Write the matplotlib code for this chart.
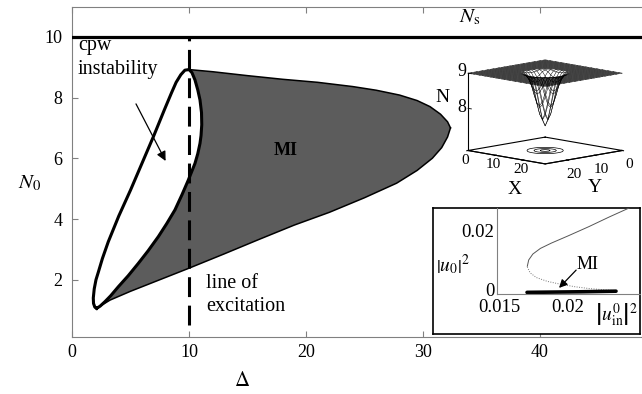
import matplotlib
matplotlib.use('Agg')
import matplotlib.pyplot as plt
import numpy as np

plt.rcParams['font.family'] = ['Liberation Serif', 'DejaVu Serif']
plt.rcParams['mathtext.fontset'] = 'stix'

# cpw instability lobe: outer edge, bottom tip -> top
lobe_out_x = [2.11, 1.95, 1.84, 1.82, 1.9, 2.05, 2.25, 2.6, 3.1, 4.0, 5.0, 6.0, 7.0, 7.9, 8.5, 8.9, 9.3, 9.65, 10.0]
lobe_out_y = [1.06, 1.1, 1.22, 1.4, 1.7, 2.0, 2.25, 2.7, 3.25, 4.1, 4.95, 5.85, 6.75, 7.6, 8.15, 8.5, 8.75, 8.9, 8.92]
# inner edge, top -> bottom tip (also left edge of the MI region)
lobe_in_x = [10.0, 10.25, 10.51, 10.75, 10.94, 11.07, 11.09, 11.03, 10.94, 10.75, 10.51, 9.94, 9.4, 8.8, 8.1,
             7.38, 6.5, 5.67, 4.8, 3.96, 3.3, 2.82, 2.4, 2.11]
lobe_in_y = [8.92, 8.82, 8.58, 8.25, 7.92, 7.5, 7.1, 6.75, 6.49, 6.15, 5.83, 5.28, 4.8, 4.3, 3.85,
             3.42, 2.95, 2.54, 2.13, 1.77, 1.47, 1.28, 1.13, 1.06]
# MI region, lower and upper edges
mi_low_x = [2.11, 3.25, 5.0, 7.5, 10.0, 13.0, 16.0, 19.0, 22.0, 25.0, 27.75, 29.5, 30.8, 31.6, 32.1, 32.35]
mi_low_y = [1.06, 1.33, 1.62, 2.0, 2.38, 2.85, 3.33, 3.8, 4.22, 4.7, 5.18, 5.6, 6.0, 6.35, 6.7, 7.0]
mi_up_x = [10.0, 12.0, 15.0, 18.0, 21.0, 24.0, 26.0, 28.0, 29.5, 30.6, 31.5, 32.1, 32.35]
mi_up_y = [8.92, 8.85, 8.72, 8.6, 8.5, 8.36, 8.24, 8.08, 7.9, 7.7, 7.45, 7.2, 7.0]

N_s = 10.0
delta_exc = 10.0

# bistability inset
up_x = [0.01705, 0.01715, 0.01745, 0.0180, 0.0188, 0.0200, 0.0215, 0.0230, 0.02462]
up_y = [0.0080, 0.0101, 0.0121, 0.0140, 0.0158, 0.0182, 0.0213, 0.0246, 0.0280]
mid_x = [0.01705, 0.01725, 0.0177, 0.0185, 0.0195, 0.0205, 0.0215, 0.0228, 0.02341]
mid_y = [0.0078, 0.0058, 0.0042, 0.0029, 0.0019, 0.0011, 0.0005, 0.0, -0.0002]
low_x = [0.01703, 0.0190, 0.0210, 0.02348]
low_y = [-0.0008, -0.0007, -0.0006, -0.0004]

# 3d inset: radial profile of the dip
dip_r = [0, 1, 2, 3, 4, 5, 6, 40]
dip_n = [7.5, 7.68, 8.05, 8.45, 8.8, 8.95, 9.0, 9.0]
grid_side = np.arange(0, 29)
z_ticks = [8, 9]
z_low = 6.8

fig = plt.figure(figsize=(6.42, 3.94), dpi=100)
W, H = 642.0, 394.0

def rect(l, t, r, b):
    return [l / W, 1 - b / H, (r - l) / W, (b - t) / H]

ax = fig.add_axes(rect(72, 7, 642, 337))
ax.fill(lobe_in_x + mi_low_x[1:] + mi_up_x[::-1], lobe_in_y + mi_low_y[1:] + mi_up_y[::-1],
        color='#5c5c5c', lw=0, zorder=1)
ax.plot(mi_low_x, mi_low_y, color='k', lw=1.1, zorder=2)
ax.plot(mi_up_x, mi_up_y, color='k', lw=1.1, zorder=2)
ax.plot(lobe_out_x + lobe_in_x, lobe_out_y + lobe_in_y, color='k', lw=2.2, zorder=3)
ax.plot([delta_exc, delta_exc], [0.52, N_s], color='k', lw=2.2, ls=(0, (6.5, 2.8)), zorder=4)
ax.axhline(N_s, color='k', lw=2.3, zorder=4)

ax.set_xlim(0, 48.72)
ax.set_ylim(0.115, 10.98)
ax.set_xticks([0, 10, 20, 30, 40])
ax.set_yticks([2, 4, 6, 8, 10])
ax.tick_params(direction='in', length=4, color='#808080', labelsize=13, top=True, right=False)
ax.tick_params(axis='y', pad=7)
ax.tick_params(axis='x', pad=5)
for s in ['left', 'bottom', 'top']:
    ax.spines[s].set_color('#808080')
ax.spines['right'].set_visible(False)

fig.text(242 / W, 1 - 382 / H, r'$\Delta$', fontsize=15, ha='center', va='center')
fig.text(30 / W, 1 - 183 / H, r'$N_0$', fontsize=15, ha='center', va='center')
ax.text(0.51, 9.56, 'cpw', fontsize=14.5, va='baseline')
ax.text(0.51, 8.77, 'instability', fontsize=14.5, va='baseline')
ax.text(11.45, 1.72, 'line of', fontsize=14.5, va='baseline')
ax.text(11.45, 0.97, 'excitation', fontsize=14.5, va='baseline')
ax.text(18.3, 6.27, 'MI', fontsize=13, fontweight='bold', ha='center', va='center')
ax.annotate('', xy=(8.0, 5.91), xytext=(5.47, 7.79),
            arrowprops=dict(arrowstyle='-|>', color='k', lw=0.9, mutation_scale=14, shrinkA=0, shrinkB=0))
ax.text(34.0, 10.62, r'$N_{\rm s}$', fontsize=15, ha='center', va='center')

# bistability inset
box = fig.add_axes(rect(433, 208, 640, 334))
box.set_xticks([])
box.set_yticks([])
for s in box.spines.values():
    s.set_color('k')
    s.set_linewidth(1.2)
bx = fig.add_axes(rect(496.7, 208, 640, 294.3))
bx.patch.set_alpha(0)
bx.plot(up_x, up_y, color='#555555', lw=0.7)
bx.plot(mid_x, mid_y, color='#777777', lw=0.7, ls=(0, (1, 1.5)))
bx.plot(low_x, low_y, color='k', lw=2.6, solid_capstyle='round')
bx.set_xlim(0.01483, 0.02522)
bx.set_ylim(-0.00145, 0.0276)
bx.set_xticks([0.015, 0.02])
bx.set_xticklabels(['0.015', '0.02'])
bx.set_yticks([0, 0.02])
bx.set_yticklabels(['0', '0.02'])
bx.tick_params(length=0, labelsize=13.5, pad=1.5)
bx.tick_params(axis='x', pad=3.5)
bx.spines['top'].set_visible(False)
bx.spines['right'].set_visible(False)
bx.spines['left'].set_color('#808080')
bx.spines['bottom'].set_color('#808080')
bx.text(0.02145, 0.0087, 'MI', fontsize=13, ha='center', va='center')
bx.annotate('', xy=(0.01935, 0.0007), xytext=(0.02059, 0.0067),
            arrowprops=dict(arrowstyle='-|>', color='k', lw=0.9, mutation_scale=12, shrinkA=0, shrinkB=0))
fig.text(453 / W, 1 - 265 / H, r'$\left|u_0\right|^2$', fontsize=14, ha='center', va='center')
fig.text(617 / W, 1 - 315 / H, r'$\left|u_{\rm in}^0\right|^2$', fontsize=14, ha='center', va='center')

# 3d inset
a3 = fig.add_axes(rect(443, 34, 643, 194), projection='3d')
a3.patch.set_alpha(0)
GX, GY = np.meshgrid(grid_side, grid_side)
c = grid_side.mean()
GZ = np.interp(np.hypot(GX - c, GY - c), dip_r, dip_n)
a3.plot_wireframe(GX, GY, GZ, rstride=1, cstride=1, color='k', lw=0.35)
a3.contour(GX, GY, GZ, levels=[7.8, 8.4, 8.9], zdir='z', offset=z_low, colors='k', linewidths=0.5)
x0, x1 = grid_side[0], grid_side[-1]
a3.plot([x0, x1, x1, x0, x0], [x0, x0, x1, x1, x0], [z_low] * 5, color='k', lw=0.8)
# vertical axis at the left corner (x=0, y=28)
a3.plot([x0, x0], [x1, x1], [z_low, max(z_ticks)], color='k', lw=0.8)
for zt in z_ticks:
    a3.plot([x0, x0 + 1.2], [x1, x1], [zt, zt], color='k', lw=0.6)
a3.view_init(elev=10, azim=-45)
a3.set_proj_type('ortho')
a3.set_xlim(x0, x1)
a3.set_ylim(x1, x0)
a3.set_zlim(z_low, 9)
a3.set_box_aspect((1, 1, 0.72), zoom=1.05)
a3.set_xticks([0, 10, 20])
a3.set_yticks([0, 10, 20])
a3.set_zticks([])
a3.grid(False)
for axis in (a3.xaxis, a3.yaxis, a3.zaxis):
    axis.set_pane_color((1, 1, 1, 0))
    axis.line.set_color('k')
    axis.line.set_linewidth(0.8)
    axis.offsetText.set_visible(False)
    axis.label.set_visible(False)
a3.zaxis.line.set_color((0, 0, 0, 0))
a3.tick_params(labelsize=11, pad=-3)
a3.tick_params(axis='x', pad=-6)
for zt, ypx in zip(z_ticks, [108, 72]):
    fig.text(462 / W, 1 - ypx / H, str(zt), fontsize=13, ha='center', va='center')
fig.text(442 / W, 1 - 98 / H, 'N', fontsize=14, ha='center', va='center')
fig.text(515 / W, 1 - 190 / H, 'X', fontsize=14, ha='center', va='center')
fig.text(595 / W, 1 - 187 / H, 'Y', fontsize=14, ha='center', va='center')

fig.savefig('out.png', dpi=100)
